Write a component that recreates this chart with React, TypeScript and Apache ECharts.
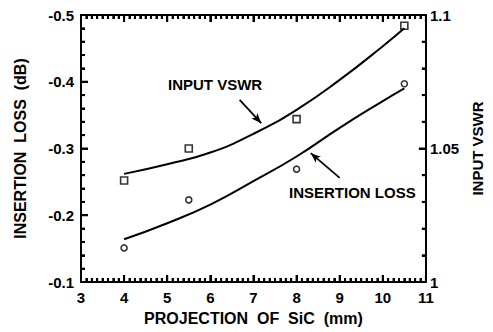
import React, { useEffect, useRef } from "react";
import * as echarts from "echarts";

const xMeasured = [4, 5.5, 8, 10.5];
const vswrMeasured = [1.038, 1.05, 1.061, 1.096];
const ilMeasured = [-0.151, -0.223, -0.269, -0.397];

const xFit = [4, 5, 6, 7, 8, 9, 10, 10.5];
const vswrFit = [1.0405, 1.0441, 1.0485, 1.0555, 1.0645, 1.0757, 1.0883, 1.095];
const ilFit = [-0.164, -0.188, -0.216, -0.251, -0.288, -0.331, -0.371, -0.39];

const FONT = "'Liberation Sans', Arial, Helvetica, sans-serif";

const range = (a: number, b: number, n: number) => {
  const out: number[] = [];
  for (let i = 0; i <= n; i++) out.push(a + ((b - a) * i) / n);
  return out;
};
const xTicks = range(3, 11, 64);
const leftTicks = range(-0.5, -0.1, 20);
const rightTicks = range(1, 1.1, 10);

export default function App() {
  const ref = useRef<HTMLDivElement>(null);
  useEffect(() => {
    if (!ref.current) return;
    const chart = echarts.init(ref.current, null, { renderer: "svg" });
    const axisLine = () => ({ show: true, lineStyle: { color: "#000", width: 2 } });
    const axisTick = () => ({ show: true, inside: true, length: 7, lineStyle: { color: "#000", width: 2 } });
    const minorTick = (n: number) => ({ show: true, splitNumber: n, length: 4, lineStyle: { color: "#000", width: 2 } });
    const labelStyle = () => ({ color: "#000", fontFamily: FONT, fontWeight: "bold", fontSize: 15 });
    const tickStyle = { stroke: "#000", lineWidth: 2 };
    const isMajor = (v: number, step: number) => Math.abs(v / step - Math.round(v / step)) < 1e-6;
    chart.setOption({
      animation: false,
      grid: { left: 81, right: 64, top: 15, bottom: 50 },
      xAxis: [
        {
          type: "value",
          min: 3,
          max: 11,
          interval: 1,
          name: "PROJECTION  OF  SiC  (mm)",
          nameLocation: "middle",
          nameGap: 28,
          nameTextStyle: { ...labelStyle(), fontSize: 16 },
          axisLine: axisLine(),
          axisTick: axisTick(),
          minorTick: minorTick(8),
          splitLine: { show: false },
          axisLabel: { ...labelStyle(), margin: 8 },
        },
        {
          type: "value",
          min: 3,
          max: 11,
          interval: 1,
          position: "top",
          axisLine: axisLine(),
          axisTick: axisTick(),
          minorTick: minorTick(8),
          splitLine: { show: false },
          axisLabel: { show: false },
        },
      ],
      yAxis: [
        {
          type: "value",
          min: -0.5,
          max: -0.1,
          interval: 0.1,
          inverse: true,
          name: "INSERTION  LOSS  (dB)",
          nameLocation: "middle",
          nameRotate: 90,
          nameGap: 53,
          nameTextStyle: { ...labelStyle(), fontSize: 16 },
          axisLine: axisLine(),
          axisTick: axisTick(),
          minorTick: minorTick(5),
          splitLine: { show: false },
          axisLabel: { ...labelStyle(), margin: 7, formatter: (v: number) => v.toFixed(1) },
        },
        {
          type: "value",
          min: 1,
          max: 1.1,
          interval: 0.05,
          position: "right",
          name: "INPUT VSWR",
          nameLocation: "middle",
          nameRotate: 90,
          nameGap: 44,
          nameTextStyle: { ...labelStyle(), fontSize: 15 },
          axisLine: axisLine(),
          axisTick: axisTick(),
          minorTick: minorTick(5),
          splitLine: { show: false },
          axisLabel: { ...labelStyle(), margin: 4, formatter: (v: number) => String(Number(v.toFixed(2))) },
        },
      ],
      series: [
        {
          type: "custom",
          silent: true,
          clip: false,
          z: 10,
          yAxisIndex: 0,
          data: xTicks.map((v) => [v, -0.3]),
          renderItem: (_p: any, api: any) => {
            const v = api.value(0);
            const len = isMajor(v, 1) ? 7 : 4;
            const b = api.coord([v, -0.1]);
            const t = api.coord([v, -0.5]);
            return {
              type: "group",
              children: [
                { type: "line", shape: { x1: b[0], y1: b[1], x2: b[0], y2: b[1] - len }, style: { ...tickStyle } },
                { type: "line", shape: { x1: t[0], y1: t[1], x2: t[0], y2: t[1] + len }, style: { ...tickStyle } },
              ],
            };
          },
        },
        {
          type: "custom",
          silent: true,
          clip: false,
          z: 10,
          yAxisIndex: 0,
          data: leftTicks.map((v) => [3, v]),
          renderItem: (_p: any, api: any) => {
            const v = api.value(1);
            const len = isMajor(v, 0.1) ? 7 : 4;
            const p = api.coord([3, v]);
            return { type: "line", shape: { x1: p[0], y1: p[1], x2: p[0] + len, y2: p[1] }, style: { ...tickStyle } };
          },
        },
        {
          type: "custom",
          silent: true,
          clip: false,
          z: 10,
          yAxisIndex: 1,
          data: rightTicks.map((v) => [11, v]),
          renderItem: (_p: any, api: any) => {
            const v = api.value(1);
            const len = isMajor(v, 0.05) ? 7 : 4;
            const p = api.coord([11, v]);
            return { type: "line", shape: { x1: p[0], y1: p[1], x2: p[0] - len, y2: p[1] }, style: { ...tickStyle } };
          },
        },
        {
          type: "line",
          yAxisIndex: 1,
          smooth: true,
          showSymbol: false,
          symbol: "none",
          lineStyle: { color: "#000", width: 2 },
          data: xFit.map((x, i) => [x, vswrFit[i]]),
        },
        {
          type: "scatter",
          yAxisIndex: 1,
          symbol: "rect",
          symbolSize: 7,
          itemStyle: { color: "#fff", borderColor: "#000", borderWidth: 1.6 },
          data: xMeasured.map((x, i) => [x, vswrMeasured[i]]),
        },
        {
          type: "line",
          yAxisIndex: 0,
          smooth: true,
          showSymbol: false,
          symbol: "none",
          lineStyle: { color: "#000", width: 2 },
          data: xFit.map((x, i) => [x, ilFit[i]]),
          markLine: {
            silent: true,
            lineStyle: { color: "#000", width: 1.8, type: "solid" },
            label: { show: false },
            symbol: ["none", "arrow"],
            symbolSize: [6, 10],
            data: [
              [{ coord: [6.68, -0.373] }, { coord: [7.18, -0.338] }],
              [{ coord: [9.0, -0.256] }, { coord: [8.33, -0.293] }],
            ],
          },
        },
        {
          type: "scatter",
          yAxisIndex: 0,
          symbol: "circle",
          symbolSize: 6,
          itemStyle: { color: "#fff", borderColor: "#000", borderWidth: 1.6 },
          data: xMeasured.map((x, i) => [x, ilMeasured[i]]),
        },
      ],
      graphic: [
        {
          type: "text",
          left: 168,
          top: 77,
          style: { text: "INPUT VSWR", fill: "#000", font: `bold 15px ${FONT}` },
        },
        {
          type: "text",
          left: 289,
          top: 185,
          style: { text: "INSERTION LOSS", fill: "#000", font: `bold 15px ${FONT}` },
        },
      ],
    });
    return () => chart.dispose();
  }, []);
  return <div ref={ref} style={{ position: "fixed", left: 0, top: 0, width: 493, height: 332, background: "#fff" }} />;
}
